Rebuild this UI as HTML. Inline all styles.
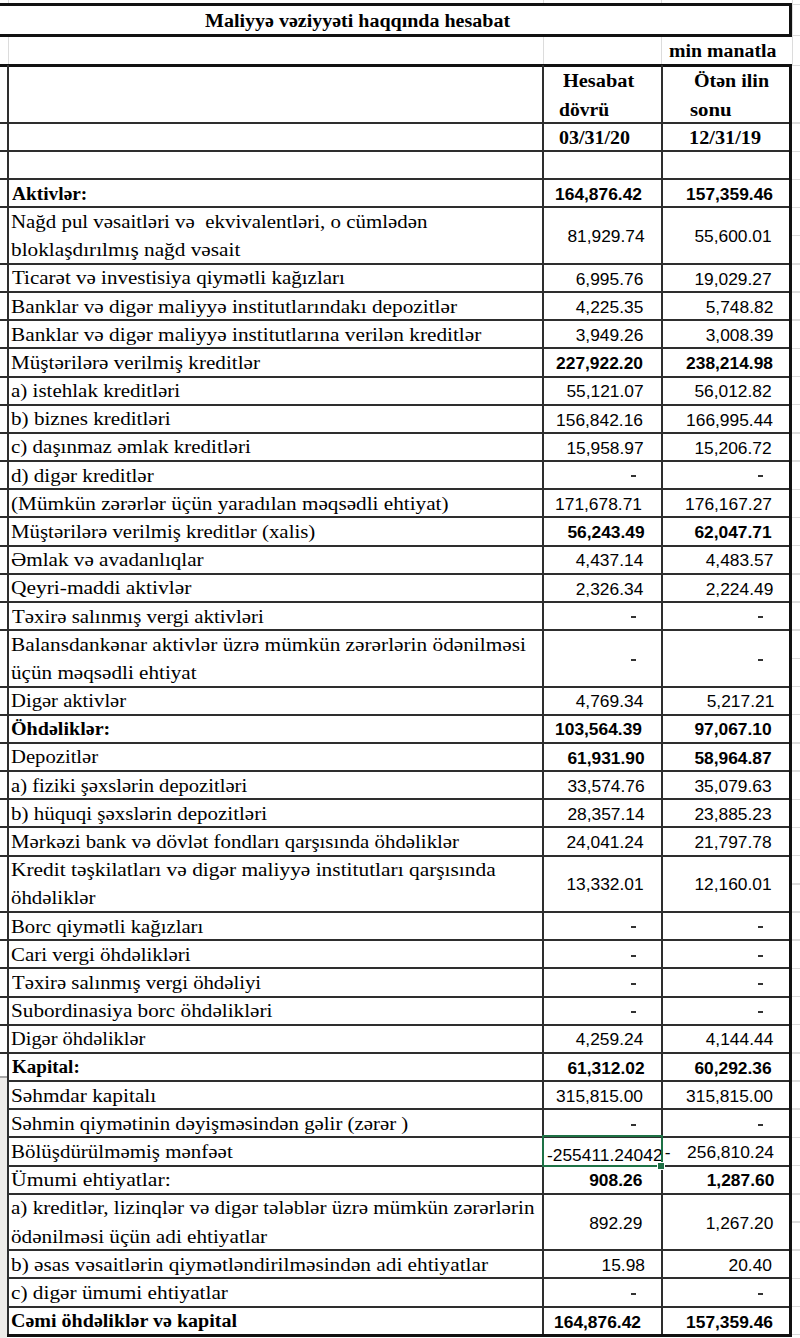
<!DOCTYPE html>
<html><head><meta charset="utf-8"><style>
html,body{margin:0;padding:0;background:#fff;width:800px;height:1338px;overflow:hidden;position:relative}
.l{position:absolute}
.t{position:absolute;white-space:pre;line-height:1;color:#000;transform-origin:left top}
</style></head><body>
<div class="l" style="left:7.50px;top:0.00px;width:1px;height:4.00px;background:#dcdcdc"></div>
<div class="l" style="left:7.50px;top:34.50px;width:1px;height:30.80px;background:#dcdcdc"></div>
<div class="l" style="left:542.50px;top:0.00px;width:1px;height:4.00px;background:#dcdcdc"></div>
<div class="l" style="left:542.50px;top:34.50px;width:1px;height:30.80px;background:#dcdcdc"></div>
<div class="l" style="left:661.00px;top:0.00px;width:1px;height:4.00px;background:#dcdcdc"></div>
<div class="l" style="left:661.00px;top:34.50px;width:1px;height:30.80px;background:#dcdcdc"></div>
<div class="l" style="left:0.00px;top:3.05px;width:791.50px;height:2.5px;background:#111"></div>
<div class="l" style="left:0.00px;top:34.15px;width:791.50px;height:2.5px;background:#111"></div>
<div class="l" style="left:788.50px;top:3.00px;width:3px;height:33.00px;background:#111"></div>
<div class="l" style="left:0.00px;top:64.25px;width:791.50px;height:2.5px;background:#111"></div>
<div class="l" style="left:0;top:1077.5px;width:7px;height:261px;background:#eeece9"></div>
<div class="l" style="left:0.00px;top:1076.05px;width:7.00px;height:1.5px;background:#a8a8a8"></div>
<div class="l" style="left:7.00px;top:65.30px;width:2px;height:1270.70px;background:#2e2e2e"></div>
<div class="l" style="left:542.00px;top:65.30px;width:2px;height:1270.70px;background:#2e2e2e"></div>
<div class="l" style="left:660.50px;top:65.30px;width:2px;height:1270.70px;background:#2e2e2e"></div>
<div class="l" style="left:788.50px;top:64.00px;width:3px;height:1272.50px;background:#111"></div>
<div class="l" style="left:791.50px;top:0.00px;width:1px;height:65.50px;background:#dcdcdc"></div>
<div class="l" style="left:791.50px;top:3.55px;width:8.50px;height:1.5px;background:#dcdcdc"></div>
<div class="l" style="left:791.50px;top:34.65px;width:8.50px;height:1.5px;background:#dcdcdc"></div>
<div class="l" style="left:791.50px;top:64.75px;width:8.50px;height:1.5px;background:#dcdcdc"></div>
<div class="l" style="left:791.50px;top:122.45px;width:8.50px;height:1.5px;background:#dcdcdc"></div>
<div class="l" style="left:791.50px;top:150.55px;width:8.50px;height:1.5px;background:#dcdcdc"></div>
<div class="l" style="left:791.50px;top:178.55px;width:8.50px;height:1.5px;background:#dcdcdc"></div>
<div class="l" style="left:791.50px;top:206.73px;width:8.50px;height:1.5px;background:#dcdcdc"></div>
<div class="l" style="left:791.50px;top:234.91px;width:8.50px;height:1.5px;background:#dcdcdc"></div>
<div class="l" style="left:791.50px;top:263.09px;width:8.50px;height:1.5px;background:#dcdcdc"></div>
<div class="l" style="left:791.50px;top:291.27px;width:8.50px;height:1.5px;background:#dcdcdc"></div>
<div class="l" style="left:791.50px;top:319.45px;width:8.50px;height:1.5px;background:#dcdcdc"></div>
<div class="l" style="left:791.50px;top:347.63px;width:8.50px;height:1.5px;background:#dcdcdc"></div>
<div class="l" style="left:791.50px;top:375.81px;width:8.50px;height:1.5px;background:#dcdcdc"></div>
<div class="l" style="left:791.50px;top:403.99px;width:8.50px;height:1.5px;background:#dcdcdc"></div>
<div class="l" style="left:791.50px;top:432.17px;width:8.50px;height:1.5px;background:#dcdcdc"></div>
<div class="l" style="left:791.50px;top:460.35px;width:8.50px;height:1.5px;background:#dcdcdc"></div>
<div class="l" style="left:791.50px;top:488.53px;width:8.50px;height:1.5px;background:#dcdcdc"></div>
<div class="l" style="left:791.50px;top:516.71px;width:8.50px;height:1.5px;background:#dcdcdc"></div>
<div class="l" style="left:791.50px;top:544.89px;width:8.50px;height:1.5px;background:#dcdcdc"></div>
<div class="l" style="left:791.50px;top:573.07px;width:8.50px;height:1.5px;background:#dcdcdc"></div>
<div class="l" style="left:791.50px;top:601.25px;width:8.50px;height:1.5px;background:#dcdcdc"></div>
<div class="l" style="left:791.50px;top:629.43px;width:8.50px;height:1.5px;background:#dcdcdc"></div>
<div class="l" style="left:791.50px;top:657.61px;width:8.50px;height:1.5px;background:#dcdcdc"></div>
<div class="l" style="left:791.50px;top:685.79px;width:8.50px;height:1.5px;background:#dcdcdc"></div>
<div class="l" style="left:791.50px;top:713.97px;width:8.50px;height:1.5px;background:#dcdcdc"></div>
<div class="l" style="left:791.50px;top:742.15px;width:8.50px;height:1.5px;background:#dcdcdc"></div>
<div class="l" style="left:791.50px;top:770.33px;width:8.50px;height:1.5px;background:#dcdcdc"></div>
<div class="l" style="left:791.50px;top:798.51px;width:8.50px;height:1.5px;background:#dcdcdc"></div>
<div class="l" style="left:791.50px;top:826.69px;width:8.50px;height:1.5px;background:#dcdcdc"></div>
<div class="l" style="left:791.50px;top:854.87px;width:8.50px;height:1.5px;background:#dcdcdc"></div>
<div class="l" style="left:791.50px;top:883.05px;width:8.50px;height:1.5px;background:#dcdcdc"></div>
<div class="l" style="left:791.50px;top:911.23px;width:8.50px;height:1.5px;background:#dcdcdc"></div>
<div class="l" style="left:791.50px;top:939.41px;width:8.50px;height:1.5px;background:#dcdcdc"></div>
<div class="l" style="left:791.50px;top:967.59px;width:8.50px;height:1.5px;background:#dcdcdc"></div>
<div class="l" style="left:791.50px;top:995.77px;width:8.50px;height:1.5px;background:#dcdcdc"></div>
<div class="l" style="left:791.50px;top:1023.95px;width:8.50px;height:1.5px;background:#dcdcdc"></div>
<div class="l" style="left:791.50px;top:1052.13px;width:8.50px;height:1.5px;background:#dcdcdc"></div>
<div class="l" style="left:791.50px;top:1080.31px;width:8.50px;height:1.5px;background:#dcdcdc"></div>
<div class="l" style="left:791.50px;top:1108.49px;width:8.50px;height:1.5px;background:#dcdcdc"></div>
<div class="l" style="left:791.50px;top:1136.67px;width:8.50px;height:1.5px;background:#dcdcdc"></div>
<div class="l" style="left:791.50px;top:1164.85px;width:8.50px;height:1.5px;background:#dcdcdc"></div>
<div class="l" style="left:791.50px;top:1193.03px;width:8.50px;height:1.5px;background:#dcdcdc"></div>
<div class="l" style="left:791.50px;top:1221.21px;width:8.50px;height:1.5px;background:#dcdcdc"></div>
<div class="l" style="left:791.50px;top:1249.39px;width:8.50px;height:1.5px;background:#dcdcdc"></div>
<div class="l" style="left:791.50px;top:1277.57px;width:8.50px;height:1.5px;background:#dcdcdc"></div>
<div class="l" style="left:791.50px;top:1305.75px;width:8.50px;height:1.5px;background:#dcdcdc"></div>
<div class="l" style="left:791.50px;top:1333.93px;width:8.50px;height:1.5px;background:#dcdcdc"></div>
<div class="l" style="left:0.00px;top:122.20px;width:789.00px;height:2px;background:#2e2e2e"></div>
<div class="l" style="left:0.00px;top:150.30px;width:789.00px;height:2px;background:#2e2e2e"></div>
<div class="l" style="left:0.00px;top:178.30px;width:789.00px;height:2px;background:#2e2e2e"></div>
<div class="t" style="left:204.50px;top:11.50px;font-family:'Liberation Serif', serif;font-size:18.5px;font-weight:700;transform:scaleX(1.0812)">Maliyyə vəziyyəti haqqında hesabat</div>
<div class="t" style="left:669.43px;top:42.25px;font-family:'Liberation Serif', serif;font-size:18.5px;font-weight:700;transform:scaleX(1.0717)">min manatla</div>
<div class="t" style="left:563.10px;top:72.40px;font-family:'Liberation Serif', serif;font-size:18.5px;font-weight:700;transform:scaleX(1.1000)">Hesabat</div>
<div class="t" style="left:558.94px;top:100.50px;font-family:'Liberation Serif', serif;font-size:18.5px;font-weight:700;transform:scaleX(1.0598)">dövrü</div>
<div class="t" style="left:693.92px;top:72.40px;font-family:'Liberation Serif', serif;font-size:18.5px;font-weight:700;transform:scaleX(1.0809)">Ötən ilin</div>
<div class="t" style="left:689.88px;top:100.50px;font-family:'Liberation Serif', serif;font-size:18.5px;font-weight:700;transform:scaleX(1.1250)">sonu</div>
<div class="t" style="left:558.92px;top:128.60px;font-family:'Liberation Serif', serif;font-size:18.5px;font-weight:700;transform:scaleX(1.0781)">03/31/20</div>
<div class="t" style="left:688.81px;top:128.60px;font-family:'Liberation Serif', serif;font-size:18.5px;font-weight:700;transform:scaleX(1.0952)">12/31/19</div>
<div class="t" style="left:11.70px;top:184.85px;font-family:'Liberation Serif', serif;font-size:18.5px;font-weight:700;transform:scaleX(1.0471)">Aktivlər:</div>
<div class="t" style="right:158.10px;top:187.06px;font-family:'Liberation Sans', sans-serif;font-size:16.8px;font-weight:700;transform:scaleX(1.035);transform-origin:right">164,876.42</div>
<div class="t" style="right:26.80px;top:187.06px;font-family:'Liberation Sans', sans-serif;font-size:16.8px;font-weight:700;transform:scaleX(1.035);transform-origin:right">157,359.46</div>
<div class="l" style="left:0.00px;top:206.48px;width:789.00px;height:2px;background:#2e2e2e"></div>
<div class="t" style="left:10.58px;top:213.03px;font-family:'Liberation Serif', serif;font-size:18.7px;font-weight:400;transform:scaleX(1.1175)">Nağd pul vəsaitləri və  ekvivalentləri, o cümlədən</div>
<div class="t" style="left:10.56px;top:241.21px;font-family:'Liberation Serif', serif;font-size:18.7px;font-weight:400;transform:scaleX(1.1390)">bloklaşdırılmış nağd vəsait</div>
<div class="t" style="right:155.40px;top:229.33px;font-family:'Liberation Sans', sans-serif;font-size:16.8px;font-weight:400;transform:scaleX(1.035);transform-origin:right">81,929.74</div>
<div class="t" style="right:28.70px;top:229.33px;font-family:'Liberation Sans', sans-serif;font-size:16.8px;font-weight:400;transform:scaleX(1.035);transform-origin:right">55,600.01</div>
<div class="l" style="left:0.00px;top:262.84px;width:789.00px;height:2px;background:#2e2e2e"></div>
<div class="t" style="left:11.70px;top:269.39px;font-family:'Liberation Serif', serif;font-size:18.7px;font-weight:400;transform:scaleX(1.1240)">Ticarət və investisiya qiymətli kağızları</div>
<div class="t" style="right:156.40px;top:271.60px;font-family:'Liberation Sans', sans-serif;font-size:16.8px;font-weight:400;transform:scaleX(1.035);transform-origin:right">6,995.76</div>
<div class="t" style="right:28.70px;top:271.60px;font-family:'Liberation Sans', sans-serif;font-size:16.8px;font-weight:400;transform:scaleX(1.035);transform-origin:right">19,029.27</div>
<div class="l" style="left:0.00px;top:291.02px;width:789.00px;height:2px;background:#2e2e2e"></div>
<div class="t" style="left:10.56px;top:297.57px;font-family:'Liberation Serif', serif;font-size:18.7px;font-weight:400;transform:scaleX(1.1384)">Banklar və digər maliyyə institutlarındakı depozitlər</div>
<div class="t" style="right:156.40px;top:299.78px;font-family:'Liberation Sans', sans-serif;font-size:16.8px;font-weight:400;transform:scaleX(1.035);transform-origin:right">4,225.35</div>
<div class="t" style="right:26.40px;top:299.78px;font-family:'Liberation Sans', sans-serif;font-size:16.8px;font-weight:400;transform:scaleX(1.035);transform-origin:right">5,748.82</div>
<div class="l" style="left:0.00px;top:319.20px;width:789.00px;height:2px;background:#2e2e2e"></div>
<div class="t" style="left:10.56px;top:325.75px;font-family:'Liberation Serif', serif;font-size:18.7px;font-weight:400;transform:scaleX(1.1386)">Banklar və digər maliyyə institutlarına verilən kreditlər</div>
<div class="t" style="right:156.40px;top:327.96px;font-family:'Liberation Sans', sans-serif;font-size:16.8px;font-weight:400;transform:scaleX(1.035);transform-origin:right">3,949.26</div>
<div class="t" style="right:26.40px;top:327.96px;font-family:'Liberation Sans', sans-serif;font-size:16.8px;font-weight:400;transform:scaleX(1.035);transform-origin:right">3,008.39</div>
<div class="l" style="left:0.00px;top:347.38px;width:789.00px;height:2px;background:#2e2e2e"></div>
<div class="t" style="left:10.57px;top:353.93px;font-family:'Liberation Serif', serif;font-size:18.7px;font-weight:400;transform:scaleX(1.1315)">Müştərilərə verilmiş kreditlər</div>
<div class="t" style="right:157.40px;top:356.14px;font-family:'Liberation Sans', sans-serif;font-size:16.8px;font-weight:700;transform:scaleX(1.035);transform-origin:right">227,922.20</div>
<div class="t" style="right:27.40px;top:356.14px;font-family:'Liberation Sans', sans-serif;font-size:16.8px;font-weight:700;transform:scaleX(1.035);transform-origin:right">238,214.98</div>
<div class="l" style="left:0.00px;top:375.56px;width:789.00px;height:2px;background:#2e2e2e"></div>
<div class="t" style="left:10.58px;top:382.11px;font-family:'Liberation Serif', serif;font-size:18.7px;font-weight:400;transform:scaleX(1.1245)">a) istehlak kreditləri</div>
<div class="t" style="right:156.40px;top:384.32px;font-family:'Liberation Sans', sans-serif;font-size:16.8px;font-weight:400;transform:scaleX(1.035);transform-origin:right">55,121.07</div>
<div class="t" style="right:28.10px;top:384.32px;font-family:'Liberation Sans', sans-serif;font-size:16.8px;font-weight:400;transform:scaleX(1.035);transform-origin:right">56,012.82</div>
<div class="l" style="left:0.00px;top:403.74px;width:789.00px;height:2px;background:#2e2e2e"></div>
<div class="t" style="left:10.57px;top:410.29px;font-family:'Liberation Serif', serif;font-size:18.7px;font-weight:400;transform:scaleX(1.1307)">b) biznes kreditləri</div>
<div class="t" style="right:157.40px;top:412.50px;font-family:'Liberation Sans', sans-serif;font-size:16.8px;font-weight:400;transform:scaleX(1.035);transform-origin:right">156,842.16</div>
<div class="t" style="right:27.00px;top:412.50px;font-family:'Liberation Sans', sans-serif;font-size:16.8px;font-weight:400;transform:scaleX(1.035);transform-origin:right">166,995.44</div>
<div class="l" style="left:0.00px;top:431.92px;width:789.00px;height:2px;background:#2e2e2e"></div>
<div class="t" style="left:10.58px;top:438.47px;font-family:'Liberation Serif', serif;font-size:18.7px;font-weight:400;transform:scaleX(1.1241)">c) daşınmaz əmlak kreditləri</div>
<div class="t" style="right:156.40px;top:440.68px;font-family:'Liberation Sans', sans-serif;font-size:16.8px;font-weight:400;transform:scaleX(1.035);transform-origin:right">15,958.97</div>
<div class="t" style="right:28.70px;top:440.68px;font-family:'Liberation Sans', sans-serif;font-size:16.8px;font-weight:400;transform:scaleX(1.035);transform-origin:right">15,206.72</div>
<div class="l" style="left:0.00px;top:460.10px;width:789.00px;height:2px;background:#2e2e2e"></div>
<div class="t" style="left:10.57px;top:466.65px;font-family:'Liberation Serif', serif;font-size:18.7px;font-weight:400;transform:scaleX(1.1274)">d) digər kreditlər</div>
<div class="l" style="left:631.3px;top:475.49px;width:4.6px;height:2px;background:#333"></div>
<div class="l" style="left:758.4px;top:475.49px;width:4.6px;height:2px;background:#333"></div>
<div class="l" style="left:0.00px;top:488.28px;width:789.00px;height:2px;background:#2e2e2e"></div>
<div class="t" style="left:10.57px;top:494.83px;font-family:'Liberation Serif', serif;font-size:18.7px;font-weight:400;transform:scaleX(1.1349)">(Mümkün zərərlər üçün yaradılan məqsədli ehtiyat)</div>
<div class="t" style="right:158.10px;top:497.04px;font-family:'Liberation Sans', sans-serif;font-size:16.8px;font-weight:400;transform:scaleX(1.035);transform-origin:right">171,678.71</div>
<div class="t" style="right:28.10px;top:497.04px;font-family:'Liberation Sans', sans-serif;font-size:16.8px;font-weight:400;transform:scaleX(1.035);transform-origin:right">176,167.27</div>
<div class="l" style="left:0.00px;top:516.46px;width:789.00px;height:2px;background:#2e2e2e"></div>
<div class="t" style="left:10.58px;top:523.01px;font-family:'Liberation Serif', serif;font-size:18.7px;font-weight:400;transform:scaleX(1.1170)">Müştərilərə verilmiş kreditlər (xalis)</div>
<div class="t" style="right:154.90px;top:525.22px;font-family:'Liberation Sans', sans-serif;font-size:16.8px;font-weight:700;transform:scaleX(1.035);transform-origin:right">56,243.49</div>
<div class="t" style="right:28.70px;top:525.22px;font-family:'Liberation Sans', sans-serif;font-size:16.8px;font-weight:700;transform:scaleX(1.035);transform-origin:right">62,047.71</div>
<div class="l" style="left:0.00px;top:544.64px;width:789.00px;height:2px;background:#2e2e2e"></div>
<div class="t" style="left:10.57px;top:551.19px;font-family:'Liberation Serif', serif;font-size:18.7px;font-weight:400;transform:scaleX(1.1320)">Əmlak və avadanlıqlar</div>
<div class="t" style="right:156.40px;top:553.40px;font-family:'Liberation Sans', sans-serif;font-size:16.8px;font-weight:400;transform:scaleX(1.035);transform-origin:right">4,437.14</div>
<div class="t" style="right:26.40px;top:553.40px;font-family:'Liberation Sans', sans-serif;font-size:16.8px;font-weight:400;transform:scaleX(1.035);transform-origin:right">4,483.57</div>
<div class="l" style="left:0.00px;top:572.82px;width:789.00px;height:2px;background:#2e2e2e"></div>
<div class="t" style="left:10.55px;top:579.37px;font-family:'Liberation Serif', serif;font-size:18.7px;font-weight:400;transform:scaleX(1.1468)">Qeyri-maddi aktivlər</div>
<div class="t" style="right:156.40px;top:581.58px;font-family:'Liberation Sans', sans-serif;font-size:16.8px;font-weight:400;transform:scaleX(1.035);transform-origin:right">2,326.34</div>
<div class="t" style="right:26.60px;top:581.58px;font-family:'Liberation Sans', sans-serif;font-size:16.8px;font-weight:400;transform:scaleX(1.035);transform-origin:right">2,224.49</div>
<div class="l" style="left:0.00px;top:601.00px;width:789.00px;height:2px;background:#2e2e2e"></div>
<div class="t" style="left:11.70px;top:607.55px;font-family:'Liberation Serif', serif;font-size:18.7px;font-weight:400;transform:scaleX(1.1169)">Təxirə salınmış vergi aktivləri</div>
<div class="l" style="left:631.3px;top:616.39px;width:4.6px;height:2px;background:#333"></div>
<div class="l" style="left:758.4px;top:616.39px;width:4.6px;height:2px;background:#333"></div>
<div class="l" style="left:0.00px;top:629.18px;width:789.00px;height:2px;background:#2e2e2e"></div>
<div class="t" style="left:10.56px;top:635.73px;font-family:'Liberation Serif', serif;font-size:18.7px;font-weight:400;transform:scaleX(1.1393)">Balansdankənar aktivlər üzrə mümkün zərərlərin ödənilməsi</div>
<div class="t" style="left:10.57px;top:663.91px;font-family:'Liberation Serif', serif;font-size:18.7px;font-weight:400;transform:scaleX(1.1319)">üçün məqsədli ehtiyat</div>
<div class="l" style="left:631.3px;top:658.66px;width:4.6px;height:2px;background:#333"></div>
<div class="l" style="left:758.4px;top:658.66px;width:4.6px;height:2px;background:#333"></div>
<div class="l" style="left:0.00px;top:685.54px;width:789.00px;height:2px;background:#2e2e2e"></div>
<div class="t" style="left:10.60px;top:692.09px;font-family:'Liberation Serif', serif;font-size:18.7px;font-weight:400;transform:scaleX(1.1039)">Digər aktivlər</div>
<div class="t" style="right:156.40px;top:694.30px;font-family:'Liberation Sans', sans-serif;font-size:16.8px;font-weight:400;transform:scaleX(1.035);transform-origin:right">4,769.34</div>
<div class="t" style="right:25.80px;top:694.30px;font-family:'Liberation Sans', sans-serif;font-size:16.8px;font-weight:400;transform:scaleX(1.035);transform-origin:right">5,217.21</div>
<div class="l" style="left:0.00px;top:713.72px;width:789.00px;height:2px;background:#2e2e2e"></div>
<div class="t" style="left:10.61px;top:720.27px;font-family:'Liberation Serif', serif;font-size:18.5px;font-weight:700;transform:scaleX(1.0854)">Öhdəliklər:</div>
<div class="t" style="right:158.10px;top:722.48px;font-family:'Liberation Sans', sans-serif;font-size:16.8px;font-weight:700;transform:scaleX(1.035);transform-origin:right">103,564.39</div>
<div class="t" style="right:28.10px;top:722.48px;font-family:'Liberation Sans', sans-serif;font-size:16.8px;font-weight:700;transform:scaleX(1.035);transform-origin:right">97,067.10</div>
<div class="l" style="left:0.00px;top:741.90px;width:789.00px;height:2px;background:#2e2e2e"></div>
<div class="t" style="left:10.59px;top:748.45px;font-family:'Liberation Serif', serif;font-size:18.7px;font-weight:400;transform:scaleX(1.1051)">Depozitlər</div>
<div class="t" style="right:155.40px;top:750.66px;font-family:'Liberation Sans', sans-serif;font-size:16.8px;font-weight:700;transform:scaleX(1.035);transform-origin:right">61,931.90</div>
<div class="t" style="right:28.70px;top:750.66px;font-family:'Liberation Sans', sans-serif;font-size:16.8px;font-weight:700;transform:scaleX(1.035);transform-origin:right">58,964.87</div>
<div class="l" style="left:0.00px;top:770.08px;width:789.00px;height:2px;background:#2e2e2e"></div>
<div class="t" style="left:10.60px;top:776.63px;font-family:'Liberation Serif', serif;font-size:18.7px;font-weight:400;transform:scaleX(1.1019)">a) fiziki şəxslərin depozitləri</div>
<div class="t" style="right:155.40px;top:778.84px;font-family:'Liberation Sans', sans-serif;font-size:16.8px;font-weight:400;transform:scaleX(1.035);transform-origin:right">33,574.76</div>
<div class="t" style="right:28.70px;top:778.84px;font-family:'Liberation Sans', sans-serif;font-size:16.8px;font-weight:400;transform:scaleX(1.035);transform-origin:right">35,079.63</div>
<div class="l" style="left:0.00px;top:798.26px;width:789.00px;height:2px;background:#2e2e2e"></div>
<div class="t" style="left:10.58px;top:804.81px;font-family:'Liberation Serif', serif;font-size:18.7px;font-weight:400;transform:scaleX(1.1235)">b) hüquqi şəxslərin depozitləri</div>
<div class="t" style="right:155.40px;top:807.02px;font-family:'Liberation Sans', sans-serif;font-size:16.8px;font-weight:400;transform:scaleX(1.035);transform-origin:right">28,357.14</div>
<div class="t" style="right:28.10px;top:807.02px;font-family:'Liberation Sans', sans-serif;font-size:16.8px;font-weight:400;transform:scaleX(1.035);transform-origin:right">23,885.23</div>
<div class="l" style="left:0.00px;top:826.44px;width:789.00px;height:2px;background:#2e2e2e"></div>
<div class="t" style="left:10.58px;top:832.99px;font-family:'Liberation Serif', serif;font-size:18.7px;font-weight:400;transform:scaleX(1.1155)">Mərkəzi bank və dövlət fondları qarşısında öhdəliklər</div>
<div class="t" style="right:156.00px;top:835.20px;font-family:'Liberation Sans', sans-serif;font-size:16.8px;font-weight:400;transform:scaleX(1.035);transform-origin:right">24,041.24</div>
<div class="t" style="right:28.10px;top:835.20px;font-family:'Liberation Sans', sans-serif;font-size:16.8px;font-weight:400;transform:scaleX(1.035);transform-origin:right">21,797.78</div>
<div class="l" style="left:0.00px;top:854.62px;width:789.00px;height:2px;background:#2e2e2e"></div>
<div class="t" style="left:10.56px;top:861.17px;font-family:'Liberation Serif', serif;font-size:18.7px;font-weight:400;transform:scaleX(1.1445)">Kredit təşkilatları və digər maliyyə institutları qarşısında</div>
<div class="t" style="left:10.58px;top:889.35px;font-family:'Liberation Serif', serif;font-size:18.7px;font-weight:400;transform:scaleX(1.1160)">öhdəliklər</div>
<div class="t" style="right:156.00px;top:877.47px;font-family:'Liberation Sans', sans-serif;font-size:16.8px;font-weight:400;transform:scaleX(1.035);transform-origin:right">13,332.01</div>
<div class="t" style="right:28.70px;top:877.47px;font-family:'Liberation Sans', sans-serif;font-size:16.8px;font-weight:400;transform:scaleX(1.035);transform-origin:right">12,160.01</div>
<div class="l" style="left:0.00px;top:910.98px;width:789.00px;height:2px;background:#2e2e2e"></div>
<div class="t" style="left:10.59px;top:917.53px;font-family:'Liberation Serif', serif;font-size:18.7px;font-weight:400;transform:scaleX(1.1093)">Borc qiymətli kağızları</div>
<div class="l" style="left:631.3px;top:926.37px;width:4.6px;height:2px;background:#333"></div>
<div class="l" style="left:758.4px;top:926.37px;width:4.6px;height:2px;background:#333"></div>
<div class="l" style="left:0.00px;top:939.16px;width:789.00px;height:2px;background:#2e2e2e"></div>
<div class="t" style="left:10.58px;top:945.71px;font-family:'Liberation Serif', serif;font-size:18.7px;font-weight:400;transform:scaleX(1.1189)">Cari vergi öhdəlikləri</div>
<div class="l" style="left:631.3px;top:954.55px;width:4.6px;height:2px;background:#333"></div>
<div class="l" style="left:758.4px;top:954.55px;width:4.6px;height:2px;background:#333"></div>
<div class="l" style="left:0.00px;top:967.34px;width:789.00px;height:2px;background:#2e2e2e"></div>
<div class="t" style="left:11.70px;top:973.89px;font-family:'Liberation Serif', serif;font-size:18.7px;font-weight:400;transform:scaleX(1.1103)">Təxirə salınmış vergi öhdəliyi</div>
<div class="l" style="left:631.3px;top:982.73px;width:4.6px;height:2px;background:#333"></div>
<div class="l" style="left:758.4px;top:982.73px;width:4.6px;height:2px;background:#333"></div>
<div class="l" style="left:0.00px;top:995.52px;width:789.00px;height:2px;background:#2e2e2e"></div>
<div class="t" style="left:10.57px;top:1002.07px;font-family:'Liberation Serif', serif;font-size:18.7px;font-weight:400;transform:scaleX(1.1345)">Subordinasiya borc öhdəlikləri</div>
<div class="l" style="left:631.3px;top:1010.91px;width:4.6px;height:2px;background:#333"></div>
<div class="l" style="left:758.4px;top:1010.91px;width:4.6px;height:2px;background:#333"></div>
<div class="l" style="left:0.00px;top:1023.70px;width:789.00px;height:2px;background:#2e2e2e"></div>
<div class="t" style="left:10.61px;top:1030.25px;font-family:'Liberation Serif', serif;font-size:18.7px;font-weight:400;transform:scaleX(1.0918)">Digər öhdəliklər</div>
<div class="t" style="right:156.40px;top:1032.46px;font-family:'Liberation Sans', sans-serif;font-size:16.8px;font-weight:400;transform:scaleX(1.035);transform-origin:right">4,259.24</div>
<div class="t" style="right:26.40px;top:1032.46px;font-family:'Liberation Sans', sans-serif;font-size:16.8px;font-weight:400;transform:scaleX(1.035);transform-origin:right">4,144.44</div>
<div class="l" style="left:0.00px;top:1051.88px;width:789.00px;height:2px;background:#2e2e2e"></div>
<div class="t" style="left:11.70px;top:1058.43px;font-family:'Liberation Serif', serif;font-size:18.5px;font-weight:700;transform:scaleX(1.0297)">Kapital:</div>
<div class="t" style="right:155.40px;top:1060.64px;font-family:'Liberation Sans', sans-serif;font-size:16.8px;font-weight:700;transform:scaleX(1.035);transform-origin:right">61,312.02</div>
<div class="t" style="right:28.10px;top:1060.64px;font-family:'Liberation Sans', sans-serif;font-size:16.8px;font-weight:700;transform:scaleX(1.035);transform-origin:right">60,292.36</div>
<div class="l" style="left:7.00px;top:1080.06px;width:782.00px;height:2px;background:#2e2e2e"></div>
<div class="t" style="left:10.56px;top:1086.61px;font-family:'Liberation Serif', serif;font-size:18.7px;font-weight:400;transform:scaleX(1.1421)">Səhmdar kapitalı</div>
<div class="t" style="right:157.40px;top:1088.82px;font-family:'Liberation Sans', sans-serif;font-size:16.8px;font-weight:400;transform:scaleX(1.035);transform-origin:right">315,815.00</div>
<div class="t" style="right:27.00px;top:1088.82px;font-family:'Liberation Sans', sans-serif;font-size:16.8px;font-weight:400;transform:scaleX(1.035);transform-origin:right">315,815.00</div>
<div class="l" style="left:7.00px;top:1108.24px;width:782.00px;height:2px;background:#2e2e2e"></div>
<div class="t" style="left:10.59px;top:1114.79px;font-family:'Liberation Serif', serif;font-size:18.7px;font-weight:400;transform:scaleX(1.1141)">Səhmin qiymətinin dəyişməsindən gəlir (zərər )</div>
<div class="l" style="left:631.3px;top:1123.63px;width:4.6px;height:2px;background:#333"></div>
<div class="l" style="left:758.4px;top:1123.63px;width:4.6px;height:2px;background:#333"></div>
<div class="l" style="left:7.00px;top:1136.42px;width:782.00px;height:2px;background:#2e2e2e"></div>
<div class="t" style="left:10.58px;top:1142.97px;font-family:'Liberation Serif', serif;font-size:18.7px;font-weight:400;transform:scaleX(1.1214)">Bölüşdürülməmiş mənfəət</div>
<div class="t" style="left:546.50px;top:1147.50px;font-family:'Liberation Sans', sans-serif;font-size:16.8px;font-weight:400;transform:scaleX(1.035);transform-origin:left">-255411.24042</div>
<div class="t" style="right:129.50px;top:1145.18px;font-family:'Liberation Sans', sans-serif;font-size:16.8px;font-weight:400;transform:scaleX(1.035);transform-origin:right">-</div>
<div class="t" style="right:26.40px;top:1145.18px;font-family:'Liberation Sans', sans-serif;font-size:16.8px;font-weight:400;transform:scaleX(1.035);transform-origin:right">256,810.24</div>
<div class="l" style="left:7.00px;top:1164.60px;width:782.00px;height:2px;background:#2e2e2e"></div>
<div class="t" style="left:10.54px;top:1171.15px;font-family:'Liberation Serif', serif;font-size:18.7px;font-weight:400;transform:scaleX(1.1615)">Ümumi ehtiyatlar:</div>
<div class="t" style="right:157.40px;top:1173.36px;font-family:'Liberation Sans', sans-serif;font-size:16.8px;font-weight:700;transform:scaleX(1.035);transform-origin:right">908.26</div>
<div class="t" style="right:26.00px;top:1173.36px;font-family:'Liberation Sans', sans-serif;font-size:16.8px;font-weight:700;transform:scaleX(1.035);transform-origin:right">1,287.60</div>
<div class="l" style="left:7.00px;top:1192.78px;width:782.00px;height:2px;background:#2e2e2e"></div>
<div class="t" style="left:10.57px;top:1199.33px;font-family:'Liberation Serif', serif;font-size:18.7px;font-weight:400;transform:scaleX(1.1290)">a) kreditlər, lizinqlər və digər tələblər üzrə mümkün zərərlərin</div>
<div class="t" style="left:10.57px;top:1227.51px;font-family:'Liberation Serif', serif;font-size:18.7px;font-weight:400;transform:scaleX(1.1347)">ödənilməsi üçün adi ehtiyatlar</div>
<div class="t" style="right:157.40px;top:1215.63px;font-family:'Liberation Sans', sans-serif;font-size:16.8px;font-weight:400;transform:scaleX(1.035);transform-origin:right">892.29</div>
<div class="t" style="right:27.00px;top:1215.63px;font-family:'Liberation Sans', sans-serif;font-size:16.8px;font-weight:400;transform:scaleX(1.035);transform-origin:right">1,267.20</div>
<div class="l" style="left:7.00px;top:1249.14px;width:782.00px;height:2px;background:#2e2e2e"></div>
<div class="t" style="left:10.56px;top:1255.69px;font-family:'Liberation Serif', serif;font-size:18.7px;font-weight:400;transform:scaleX(1.1390)">b) əsas vəsaitlərin qiymətləndirilməsindən adi ehtiyatlar</div>
<div class="t" style="right:155.40px;top:1257.90px;font-family:'Liberation Sans', sans-serif;font-size:16.8px;font-weight:400;transform:scaleX(1.035);transform-origin:right">15.98</div>
<div class="t" style="right:28.10px;top:1257.90px;font-family:'Liberation Sans', sans-serif;font-size:16.8px;font-weight:400;transform:scaleX(1.035);transform-origin:right">20.40</div>
<div class="l" style="left:7.00px;top:1277.32px;width:782.00px;height:2px;background:#2e2e2e"></div>
<div class="t" style="left:10.56px;top:1283.87px;font-family:'Liberation Serif', serif;font-size:18.7px;font-weight:400;transform:scaleX(1.1392)">c) digər ümumi ehtiyatlar</div>
<div class="l" style="left:631.3px;top:1292.71px;width:4.6px;height:2px;background:#333"></div>
<div class="l" style="left:758.4px;top:1292.71px;width:4.6px;height:2px;background:#333"></div>
<div class="l" style="left:7.00px;top:1305.50px;width:782.00px;height:2px;background:#2e2e2e"></div>
<div class="t" style="left:10.62px;top:1312.05px;font-family:'Liberation Serif', serif;font-size:18.5px;font-weight:700;transform:scaleX(1.0824)">Cəmi öhdəliklər və kapital</div>
<div class="t" style="right:158.90px;top:1315.26px;font-family:'Liberation Sans', sans-serif;font-size:16.8px;font-weight:700;transform:scaleX(1.035);transform-origin:right">164,876.42</div>
<div class="t" style="right:26.90px;top:1315.26px;font-family:'Liberation Sans', sans-serif;font-size:16.8px;font-weight:700;transform:scaleX(1.035);transform-origin:right">157,359.46</div>
<div class="l" style="left:7.00px;top:1334.08px;width:782.00px;height:3px;background:#111"></div>
<div class="l" style="left:541.5px;top:1135.3px;width:117.8px;height:27.6px;border:2px solid #1e7145"></div>
<div class="l" style="left:657.3px;top:1161.5px;width:6px;height:6px;background:#1e7145;border:1px solid #fff"></div>
</body></html>
